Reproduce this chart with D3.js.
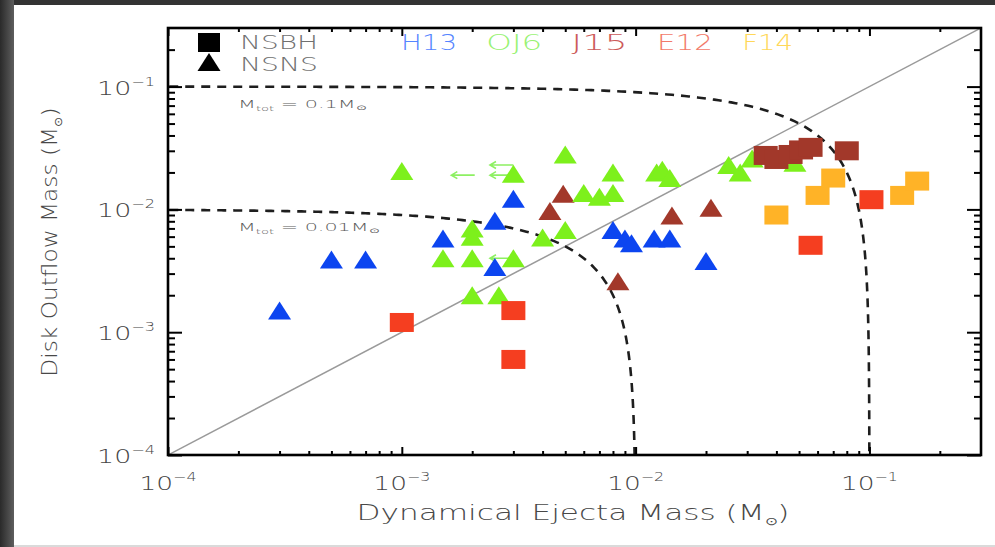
<!DOCTYPE html>
<html>
<head>
<meta charset="utf-8">
<script src="https://cdn.jsdelivr.net/npm/d3@7"></script>
<style>
  html, body { margin: 0; padding: 0; background: #333; overflow: hidden; }
  svg { display: block; }
</style>
</head>
<body>
<svg id="chart" width="995" height="547"></svg>
<script>
// ---- data: [dynamical ejecta mass, disk outflow mass] in solar masses ----
// NSNS mergers (triangles)
const h13Nsns = [
  [3.0e-4, 1.5e-3], [5.0e-4, 3.9e-3], [7.0e-4, 3.9e-3], [1.5e-3, 5.8e-3],
  [2.5e-3, 8.1e-3], [3.0e-3, 1.22e-2], [2.5e-3, 3.4e-3], [8.0e-3, 6.8e-3],
  [9.0e-3, 5.8e-3], [9.6e-3, 5.3e-3], [1.2e-2, 5.8e-3], [1.4e-2, 5.8e-3],
  [2.0e-2, 3.8e-3]
];
const oj6Nsns = [
  [1.0e-3, 2.05e-2], [3.0e-3, 1.95e-2], [5.0e-3, 2.8e-2], [8.0e-3, 2.0e-2],
  [6.0e-3, 1.36e-2], [7.0e-3, 1.27e-2], [8.0e-3, 1.36e-2], [1.23e-2, 2.0e-2],
  [1.3e-2, 2.1e-2], [1.4e-2, 1.8e-2], [2.5e-2, 2.3e-2], [2.8e-2, 2.0e-2],
  [3.15e-2, 2.6e-2], [4.8e-2, 2.4e-2], [2.0e-3, 7.0e-3], [2.0e-3, 6.0e-3],
  [1.5e-3, 4.0e-3], [2.0e-3, 4.0e-3], [3.0e-3, 4.0e-3], [4.0e-3, 5.9e-3],
  [5.0e-3, 6.8e-3], [2.0e-3, 2.0e-3], [2.6e-3, 2.0e-3]
];
const j15Nsns = [
  [4.9e-3, 1.34e-2], [4.3e-3, 9.7e-3], [1.43e-2, 8.9e-3], [2.1e-2, 1.03e-2],
  [8.4e-3, 2.6e-3]
];
// NSBH mergers (squares)
const j15Nsbh = [
  [3.6e-2, 2.75e-2], [4.0e-2, 2.55e-2], [4.6e-2, 2.8e-2], [5.1e-2, 3.05e-2],
  [5.6e-2, 3.2e-2], [8.0e-2, 3.0e-2]
];
const e12Nsbh = [
  [1.0e-3, 1.2e-3], [3.0e-3, 1.5e-3], [3.0e-3, 6.0e-4], [1.02e-1, 1.2e-2],
  [5.6e-2, 5.1e-3]
];
const f14Nsbh = [
  [4.0e-2, 9.0e-3], [6.0e-2, 1.3e-2], [7.0e-2, 1.8e-2], [1.38e-1, 1.3e-2],
  [1.6e-1, 1.7e-2]
];
// upper limits on the ejecta mass (arrow tails)
const oj6Limits = [
  [2.05e-3, 1.9e-2], [3.0e-3, 2.3e-2], [3.0e-3, 1.9e-2], [3.0e-3, 4.0e-3]
];
// constant total-mass curves, M_dyn + M_disk = M_tot
const totalMass = [0.1, 0.01];
const totalMassText = ["0.1", "0.01"];
// axis decades and their exponent labels
const decades = [1e-4, 1e-3, 1e-2, 1e-1];
const decadeExp = ["\u22124", "\u22123", "\u22122", "\u22121"];
// reference groups shown along the top
const groupNames = ["H13", "OJ6", "J15", "E12", "F14"];
const groupText = ["#5585ff", "#98f272", "#cc5a5a", "#f27a6a", "#ffd758"];

// ---- styling ----
const FONT = "'DejaVu Sans', 'Liberation Sans', Arial, sans-serif";
const C = {
  h13: "#0c45f0", oj6: "#7df01c", j15: "#a2382a", e12: "#f53e20", f14: "#ffb327"
};

const W = 995, H = 547;
const plot = { left: 168, right: 981, top: 28, bottom: 455 };

const svg = d3.select("#chart");
const defs = svg.append("defs");

// dark page edge with the white sheet on top
const edge = defs.append("linearGradient").attr("id", "edgeGrad")
  .attr("x1", 0).attr("x2", 1).attr("y1", 0).attr("y2", 0);
edge.append("stop").attr("offset", "0%").attr("stop-color", "#2a2a2a");
edge.append("stop").attr("offset", "100%").attr("stop-color", "#5e5e5e");
svg.append("rect").attr("width", W).attr("height", H).attr("fill", "#333");
svg.append("rect").attr("x", 0).attr("y", 0).attr("width", 14).attr("height", H)
  .attr("fill", "url(#edgeGrad)");
svg.append("rect").attr("x", 14).attr("y", 5).attr("width", W - 14).attr("height", 540)
  .attr("fill", "#fff");
svg.append("rect").attr("x", 14).attr("y", 545).attr("width", W - 14).attr("height", 2)
  .attr("fill", "#dadada");

const x = d3.scaleLog().domain([1e-4, 0.3]).range([plot.left, plot.right]);
const y = d3.scaleLog().domain([1e-4, 0.3]).range([plot.bottom, plot.top]);

defs.append("clipPath").attr("id", "plotClip").append("rect")
  .attr("x", plot.left).attr("y", plot.top)
  .attr("width", plot.right - plot.left).attr("height", plot.bottom - plot.top);

// text whose horizontal extent is stretched to a given width
function stretchedText(parent, o) {
  const g = parent.append("g");
  const t = g.append("text")
    .attr("font-family", FONT).attr("font-size", o.size).attr("font-weight", 200)
    .attr("fill", o.fill).attr("text-anchor", o.anchor || "start");
  o.parts.forEach(p => {
    const ts = t.append("tspan").text(p.text);
    if (p.size) ts.attr("font-size", p.size);
    if (p.dy) ts.attr("dy", p.dy);
  });
  const w = t.node().getComputedTextLength();
  const sx = o.width / w;
  g.attr("transform", `translate(${o.x},${o.y}) rotate(${o.rotate || 0}) scale(${sx},1)`);
  return g;
}

const inner = svg.append("g").attr("clip-path", "url(#plotClip)");

// one-to-one line
inner.append("line")
  .attr("x1", x(1e-4)).attr("y1", y(1e-4)).attr("x2", x(0.3)).attr("y2", y(0.3))
  .attr("stroke", "#9a9a9a").attr("stroke-width", 1.5);

// total-mass curves
function massCurve(M) {
  const pts = [];
  const n = 160, mid = Math.log10(M / 2);
  for (let i = 0; i <= n; i++) {
    const xv = Math.pow(10, -4.2 + (mid + 4.2) * i / n);
    pts.push([xv, M - xv]);
  }
  for (let i = 1; i <= n; i++) {
    const yv = Math.pow(10, mid + (-4.6 - mid) * i / n);
    pts.push([M - yv, yv]);
  }
  return pts;
}
const curveLine = d3.line().x(d => x(d[0])).y(d => y(d[1]));
totalMass.forEach(M => {
  inner.append("path").attr("d", curveLine(massCurve(M)))
    .attr("fill", "none").attr("stroke", "#1e1e1e").attr("stroke-width", 2.6)
    .attr("stroke-dasharray", "9,7");
});

// markers
function triPath(cx, cy) {
  const hw = 11.5, hh = 9;
  return `M${cx - hw},${cy + hh}L${cx + hw},${cy + hh}L${cx},${cy - hh}Z`;
}
function drawTriangles(data, color) {
  inner.append("g").selectAll("path").data(data).join("path")
    .attr("d", d => triPath(x(d[0]), y(d[1])))
    .attr("fill", color);
}
function drawSquares(data, color) {
  inner.append("g").selectAll("rect").data(data).join("rect")
    .attr("x", d => x(d[0]) - 12).attr("y", d => y(d[1]) - 9.5)
    .attr("width", 24).attr("height", 19)
    .attr("fill", color);
}

// upper-limit arrows pointing to lower ejecta mass
const arrows = inner.append("g").attr("stroke", "#8df062").attr("stroke-width", 1.6)
  .attr("fill", "none");
oj6Limits.forEach(d => {
  const x0 = x(d[0]), x1 = x(d[0] / Math.pow(10, 0.1)), yy = y(d[1]);
  arrows.append("path").attr("d",
    `M${x0},${yy}L${x1},${yy}M${x1 + 6},${yy - 3.5}L${x1},${yy}L${x1 + 6},${yy + 3.5}`);
});

drawTriangles(j15Nsns, C.j15);
drawTriangles(oj6Nsns, C.oj6);
drawTriangles(h13Nsns, C.h13);
drawSquares(f14Nsbh, C.f14);
drawSquares(e12Nsbh, C.e12);
drawSquares(j15Nsbh, C.j15);

// ticks on all four sides, pointing inward
const minor = [];
decades.forEach(dv => { for (let m = 2; m <= 9; m++) { if (m * dv <= 0.3) minor.push(m * dv); } });

function tickAxis(axisFn, scale, values, len, transform) {
  const g = svg.append("g").attr("transform", transform)
    .call(axisFn(scale).tickValues(values).tickSize(-len).tickFormat(""));
  g.select(".domain").remove();
  g.selectAll(".tick line").attr("stroke", "#000").attr("stroke-width", 2);
}
tickAxis(d3.axisBottom, x, decades, 8, `translate(0,${plot.bottom})`);
tickAxis(d3.axisBottom, x, minor, 4, `translate(0,${plot.bottom})`);
tickAxis(d3.axisTop, x, decades, 8, `translate(0,${plot.top})`);
tickAxis(d3.axisTop, x, minor, 4, `translate(0,${plot.top})`);
tickAxis(d3.axisLeft, y, decades, 14, `translate(${plot.left},0)`);
tickAxis(d3.axisLeft, y, minor, 7, `translate(${plot.left},0)`);
tickAxis(d3.axisRight, y, decades, 14, `translate(${plot.right},0)`);
tickAxis(d3.axisRight, y, minor, 7, `translate(${plot.right},0)`);

// frame
svg.append("rect")
  .attr("x", plot.left).attr("y", plot.top)
  .attr("width", plot.right - plot.left).attr("height", plot.bottom - plot.top)
  .attr("fill", "none").attr("stroke", "#000").attr("stroke-width", 2.6);

// tick labels
const labelColor = "#444";
decades.forEach((dv, i) => {
  stretchedText(svg, {
    x: x(dv), y: 490, anchor: "middle", size: 20, width: 57, fill: labelColor,
    parts: [{ text: "10" }, { text: decadeExp[i], size: 12, dy: -9 }]
  });
  stretchedText(svg, {
    x: 155, y: y(dv) + 8, anchor: "end", size: 20, width: 58, fill: labelColor,
    parts: [{ text: "10" }, { text: decadeExp[i], size: 12, dy: -9 }]
  });
});

// axis titles
stretchedText(svg, {
  x: 573, y: 520, anchor: "middle", size: 22, width: 433, fill: "#484848",
  parts: [{ text: "Dynamical Ejecta Mass (M" }, { text: "\u2299", size: 11, dy: 5 },
          { text: ")", dy: -5 }]
});
stretchedText(svg, {
  x: 57, y: 242, rotate: -90, anchor: "middle", size: 21, width: 269, fill: "#484848",
  parts: [{ text: "Disk Outflow Mass (M" }, { text: "\u2299", size: 11, dy: 5 },
          { text: ")", dy: -5 }]
});

// total-mass curve labels
totalMass.forEach((M, i) => {
  stretchedText(svg, {
    x: 238, y: i === 0 ? 108 : 231, size: 11, width: i === 0 ? 129 : 142, fill: "#5a5a5a",
    parts: [{ text: "M" }, { text: "tot", size: 7, dy: 3 },
            { text: " = " + totalMassText[i] + "M", dy: -3 },
            { text: "\u2299", size: 7, dy: 2 }]
  });
});

// legend: merger type
svg.append("rect").attr("x", 198).attr("y", 33).attr("width", 22).attr("height", 19)
  .attr("fill", "#000");
svg.append("path").attr("d", triPath(209, 62)).attr("fill", "#000");
stretchedText(svg, { x: 240, y: 49, size: 19, width: 78, fill: "#707070",
  parts: [{ text: "NSBH" }] });
stretchedText(svg, { x: 240, y: 71, size: 19, width: 78, fill: "#707070",
  parts: [{ text: "NSNS" }] });

// legend: reference groups
groupNames.forEach((name, i) => {
  stretchedText(svg, {
    x: 401 + i * 85.3, y: 50, size: 21, width: i === 4 ? 51 : 56, fill: groupText[i],
    parts: [{ text: name }]
  });
});
</script>
</body>
</html>
